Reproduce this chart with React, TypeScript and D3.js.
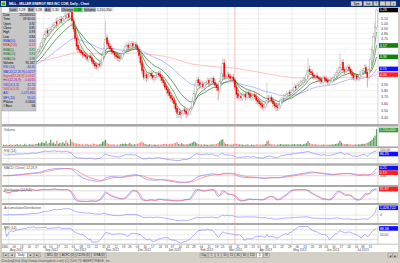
import React from "react";
import * as d3 from "d3";

// ---------------- DATA ----------------
const closes = [
  4.05, 4.08, 4.03, 4.10, 4.12, 4.12, 4.15, 4.11, 4.18, 4.20,
  4.20, 4.24, 4.19, 4.26, 4.28, 4.30, 4.27, 4.33, 4.36, 4.41,
  4.40, 4.38, 4.45, 4.49, 4.56, 4.62, 4.70, 4.78, 4.83, 4.80,
  4.86, 4.88, 4.93, 4.97, 5.02, 4.98, 5.05, 5.08, 5.04, 5.10,
  5.14, 5.15, 5.19, 5.12, 5.23, 5.05, 4.88, 4.70, 4.55, 4.49,
  4.46, 4.43, 4.40, 4.38, 4.36, 4.32, 4.37, 4.34, 4.28, 4.24,
  4.20, 4.18, 4.22, 4.21, 4.25, 4.38, 4.52, 4.68, 4.60, 4.55,
  4.50, 4.45, 4.43, 4.39, 4.36, 4.34, 4.33, 4.36, 4.42, 4.48,
  4.55, 4.57, 4.53, 4.58, 4.60, 4.56, 4.58, 4.55, 4.48, 4.38,
  4.25, 4.12, 4.01, 4.04, 4.00, 4.05, 4.07, 4.03, 4.00, 4.01,
  4.04, 4.06, 4.05, 4.01, 3.96, 3.92, 3.85, 3.81, 3.76, 3.72,
  3.68, 3.65, 3.60, 3.52, 3.46, 3.48, 3.44, 3.47, 3.50, 3.49,
  3.45, 3.47, 3.50, 3.54, 3.64, 3.76, 3.88, 3.96, 3.92, 3.88,
  3.90, 3.86, 3.91, 3.93, 3.95, 3.92, 3.96, 3.99, 3.92, 3.88,
  3.84, 3.80, 3.95, 4.08, 4.25, 4.01, 4.03, 4.05, 4.02, 3.99,
  4.01, 3.96, 3.85, 3.74, 3.69, 3.71, 3.69, 3.72, 3.73, 3.70,
  3.76, 3.74, 3.69, 3.71, 3.73, 3.70, 3.65, 3.63, 3.60, 3.58,
  3.55, 3.57, 3.60, 3.65, 3.66, 3.69, 3.64, 3.60, 3.57, 3.55,
  3.54, 3.59, 3.65, 3.67, 3.69, 3.72, 3.74, 3.76, 3.75, 3.77,
  3.81, 3.85, 3.84, 3.88, 3.90, 3.92, 3.94, 3.96, 3.99, 4.05,
  4.13, 4.10, 4.08, 4.04, 4.01, 4.03, 4.00, 3.98, 3.96, 3.94,
  4.00, 3.98, 3.95, 3.93, 3.95, 3.96, 3.99, 4.01, 4.05, 4.10,
  4.13, 4.18, 4.22, 4.13, 4.11, 4.15, 4.18, 4.14, 4.08, 4.04,
  4.00, 4.03, 3.99, 4.01, 4.06, 4.10, 4.13, 4.16, 4.09, 4.01,
  4.15, 4.31, 4.49, 4.74, 4.94, 5.28,
];

const opens = [
  4.00, 4.04, 4.09, 4.02, 4.09, 4.14, 4.11, 4.16, 4.10, 4.17,
  4.22, 4.19, 4.25, 4.18, 4.25, 4.27, 4.31, 4.26, 4.32, 4.35,
  4.43, 4.41, 4.37, 4.46, 4.48, 4.55, 4.60, 4.69, 4.76, 4.86,
  4.79, 4.84, 4.87, 4.92, 4.95, 5.04, 4.97, 5.03, 5.09, 5.02,
  5.08, 5.16, 5.13, 5.21, 5.11, 5.25, 5.06, 4.90, 4.72, 4.58,
  4.50, 4.48, 4.45, 4.41, 4.40, 4.37, 4.31, 4.38, 4.35, 4.30,
  4.25, 4.22, 4.17, 4.24, 4.20, 4.26, 4.37, 4.50, 4.72, 4.62,
  4.56, 4.52, 4.47, 4.44, 4.40, 4.38, 4.36, 4.32, 4.35, 4.41,
  4.47, 4.53, 4.58, 4.52, 4.57, 4.61, 4.55, 4.59, 4.56, 4.49,
  4.37, 4.26, 4.14, 4.00, 4.06, 3.99, 4.04, 4.08, 4.05, 3.98,
  4.00, 4.03, 4.08, 4.06, 4.02, 3.97, 3.93, 3.87, 3.82, 3.78,
  3.73, 3.69, 3.66, 3.61, 3.54, 3.45, 3.49, 3.43, 3.46, 3.52,
  3.50, 3.44, 3.46, 3.49, 3.55, 3.63, 3.75, 3.86, 3.98, 3.93,
  3.86, 3.91, 3.85, 3.90, 3.92, 3.97, 3.91, 3.95, 4.00, 3.93,
  3.89, 3.86, 3.79, 3.94, 4.07, 4.26, 4.00, 4.02, 4.06, 4.03,
  3.98, 4.02, 3.97, 3.86, 3.76, 3.68, 3.72, 3.68, 3.71, 3.75,
  3.69, 3.77, 3.75, 3.68, 3.70, 3.74, 3.71, 3.66, 3.64, 3.61,
  3.59, 3.54, 3.56, 3.59, 3.68, 3.65, 3.70, 3.65, 3.61, 3.58,
  3.56, 3.53, 3.58, 3.64, 3.66, 3.68, 3.71, 3.73, 3.78, 3.74,
  3.76, 3.80, 3.87, 3.83, 3.87, 3.89, 3.91, 3.93, 3.95, 3.98,
  4.04, 4.15, 4.11, 4.09, 4.05, 4.00, 4.04, 4.01, 3.99, 3.97,
  3.93, 4.01, 3.99, 3.96, 3.92, 3.94, 3.95, 3.98, 4.00, 4.04,
  4.09, 4.12, 4.17, 4.27, 4.14, 4.10, 4.14, 4.19, 4.15, 4.09,
  4.05, 3.99, 4.04, 3.98, 4.00, 4.05, 4.09, 4.12, 4.18, 4.10,
  4.00, 4.14, 4.30, 4.48, 4.73, 4.92,
];

// wick length above / below the body, in cents
const highWickCents = [
  3, 4, 2, 5, 3, 4, 2, 5, 3, 4,
  4, 3, 5, 2, 4, 3, 6, 3, 4, 5,
  4, 3, 5, 4, 6, 5, 7, 6, 8, 5,
  6, 5, 7, 4, 6, 8, 5, 7, 6, 5,
  6, 7, 5, 8, 23, 6, 5, 4, 6, 5,
  4, 5, 3, 6, 4, 5, 3, 4, 5, 3,
  4, 5, 3, 4, 6, 8, 12, 36, 6, 5,
  4, 5, 6, 3, 4, 5, 3, 4, 6, 5,
  5, 6, 4, 7, 5, 4, 6, 5, 4, 5,
  4, 5, 6, 4, 5, 3, 6, 4, 5, 4,
  5, 3, 4, 6, 3, 5, 4, 3, 4, 5,
  4, 3, 5, 4, 3, 5, 4, 3, 5, 4,
  3, 5, 4, 3, 6, 5, 7, 5, 4, 5,
  4, 5, 3, 4, 6, 3, 5, 4, 3, 5,
  4, 6, 5, 8, 9, 6, 4, 5, 3, 4,
  4, 5, 3, 4, 5, 3, 4, 6, 3, 4,
  5, 3, 4, 6, 3, 4, 5, 3, 4, 5,
  4, 3, 5, 27, 5, 4, 3, 5, 4, 3,
  3, 5, 4, 3, 6, 4, 5, 3, 4, 5,
  4, 5, 3, 4, 6, 5, 4, 6, 5, 8,
  21, 6, 4, 5, 3, 4, 5, 3, 4, 5,
  4, 3, 5, 4, 3, 5, 4, 6, 5, 7,
  6, 25, 8, 5, 4, 6, 5, 4, 3, 5,
  4, 5, 3, 4, 6, 5, 4, 7, 5, 4,
  6, 5, 7, 8, 10, 3,
];

const lowWickCents = [
  4, 3, 5, 2, 4, 3, 5, 3, 4, 3,
  3, 5, 2, 4, 3, 6, 4, 3, 5, 4,
  5, 6, 4, 3, 5, 4, 6, 5, 4, 7,
  5, 6, 4, 7, 5, 8, 4, 6, 5, 7,
  5, 6, 7, 5, 6, 8, 6, 5, 7, 6,
  4, 5, 6, 3, 5, 4, 6, 3, 5, 4,
  5, 4, 6, 3, 4, 5, 4, 6, 5, 4,
  5, 4, 3, 6, 4, 5, 6, 3, 4, 5,
  4, 5, 6, 3, 5, 4, 6, 5, 4, 6,
  5, 6, 4, 5, 6, 4, 3, 5, 4, 6,
  4, 5, 3, 6, 4, 5, 4, 6, 5, 4,
  5, 4, 6, 4, 6, 5, 4, 5, 3, 4,
  5, 4, 3, 5, 4, 6, 5, 4, 6, 5,
  4, 3, 5, 4, 3, 6, 4, 5, 3, 4,
  5, 15, 6, 4, 5, 4, 6, 3, 5, 4,
  3, 5, 4, 6, 4, 3, 5, 4, 3, 5,
  4, 5, 3, 4, 6, 3, 5, 4, 3, 5,
  4, 5, 3, 4, 5, 4, 3, 5, 4, 6,
  4, 3, 5, 4, 3, 5, 4, 3, 5, 4,
  3, 5, 4, 3, 4, 3, 5, 4, 3, 4,
  5, 4, 3, 5, 4, 3, 5, 4, 6, 3,
  4, 5, 3, 4, 5, 3, 4, 5, 3, 4,
  5, 4, 6, 3, 5, 4, 3, 5, 4, 6,
  4, 5, 3, 4, 5, 3, 4, 5, 3, 16,
  4, 5, 6, 5, 7, 6,
];

// volume in thousands of shares
const volumesK = [
  90, 70, 110, 60, 80, 120, 60, 100, 80, 130,
  70, 110, 90, 70, 150, 80, 60, 120, 100, 90,
  160, 120, 140, 210, 170, 260, 230, 190, 330, 150,
  210, 420, 180, 240, 140, 360, 150, 220, 190, 260,
  160, 380, 220, 140, 450, 300, 240, 190, 170, 150,
  130, 100, 150, 90, 120, 140, 80, 110, 100, 170,
  140, 110, 90, 130, 150, 260, 330, 420, 190, 140,
  120, 100, 130, 90, 80, 110, 90, 120, 150, 140,
  180, 130, 150, 210, 110, 90, 140, 100, 160, 190,
  240, 300, 220, 130, 110, 90, 120, 100, 80, 100,
  90, 80, 110, 90, 120, 130, 150, 140, 110, 130,
  160, 140, 180, 210, 280, 150, 130, 190, 120, 100,
  140, 110, 150, 170, 230, 300, 250, 180, 130, 120,
  100, 90, 110, 90, 80, 100, 80, 120, 100, 130,
  150, 210, 300, 420, 450, 240, 150, 120, 110, 90,
  100, 130, 170, 150, 140, 100, 110, 90, 80, 80,
  110, 90, 70, 100, 80, 80, 120, 100, 90, 100,
  110, 90, 130, 320, 380, 150, 110, 120, 100, 90,
  120, 100, 130, 110, 90, 110, 100, 120, 90, 100,
  110, 140, 100, 120, 110, 130, 90, 120, 150, 190,
  350, 210, 150, 130, 100, 110, 90, 100, 80, 90,
  110, 90, 80, 100, 80, 90, 110, 100, 130, 160,
  190, 360, 240, 150, 120, 140, 110, 130, 110, 100,
  90, 110, 90, 120, 100, 130, 150, 140, 170, 220,
  260, 330, 420, 560, 700, 1150,
];

const startDate = "2012-07-26";
const marketHolidays = [
  "2012-09-03", "2012-10-29", "2012-10-30", "2012-11-22", "2012-12-25",
  "2013-01-01", "2013-01-21", "2013-02-18", "2013-03-29", "2013-05-27", "2013-07-04",
];

const priceTicks = [3.4, 3.5, 3.6, 3.7, 3.8, 3.9, 4.0, 4.1, 4.2, 4.3, 4.4, 4.5, 4.6, 4.7, 4.8, 4.9, 5.0, 5.1, 5.2, 5.3];

const emaPeriods = [5, 10, 20, 50, 200];
const emaSeeds = [4.02, 4.03, 4.05, 4.22, 4.30];
const rsiSeeds = [0.03, 0.025];

const cursorIndex = 152;

const title = "MILL - MILLER ENERGY RES INC COM, Daily - Chart";
const quoteLabels = ["Last", "Bid", "Ask", "Change", "Volume"];
const quoteValues = ["5.28", "5.28", "5.30", "0.38", "1,150,350"];

const infoLabels = [
  "Date", "Time", "Open", "Close", "High", "Low", "EMA(50)", "EMA(200)", "EMA(5)", "EMA(10)", "EMA(20)",
  "Volume", "RSI (14)", "MACD(12,26,9)", "Signal(12,26,9)", "Hist(12,26,9)", "%K(14,3,3)", "%D(14,3,3)",
  "A/D", "MFI (14)", "PValue", "# Bars",
];
const infoValues = [
  "2013/03/12", "09:30:00", "3.92", "3.85", "3.93", "3.84", "4.00", "4.13", "3.92", "3.94", "3.98",
  "95,347", "44.45", "-0.0257", "-0.0242", "-0.0015", "42.70", "42.68", "-1,075,865", "55.05", "0.3400", "58",
];

const panelTitles = ["Volume", "RSI (14)", "MACD (Close) 12,26,9", "Stochastic (14,3,3)", "Accumulation/Distribution", "MFI (14)"];
const navButtons = ["|◄", "◄", "Daily", "►", "►|"];
const symbolTabs = ["MILL (D)", "ACFC (D)", "CDXS (D)", "IDRA (D)"];
const periodTabs = ["Day", "1", "5", "10", "15", "30", "60", "120", "D", "W"];

// ---------------- STYLE / LAYOUT ----------------
const FONT = "Liberation Sans, Arial, Helvetica, sans-serif";
const X0 = 2, X1 = 378, AX = 378;
const P = {
  main: [7, 124], vol: [126.5, 146.5], rsi: [148, 163.5], macd: [165.5, 185],
  stoch: [187, 203], ad: [205, 223], mfi: [225, 244],
};
const emaColors = ["#1f8a1f", "#157015", "#0b560b", "#8c8cff", "#ff9a9a"];
const infoColors = [
  "#000", "#000", "#000", "#000", "#000", "#000", "#2222ee", "#e02020", "#107010", "#107010", "#107010",
  "#000", "#2222ee", "#2222ee", "#e02020", "#b000b0", "#2222ee", "#e02020", "#2222ee", "#2222ee", "#000", "#000",
];

// ---------------- COMPUTATION ----------------
const n = closes.length;
const highs = closes.map((c, i) => Math.max(c, opens[i]) + highWickCents[i] / 100);
const lows = closes.map((c, i) => Math.min(c, opens[i]) - lowWickCents[i] / 100);
const volumes = volumesK.map((v) => v * 1000);

function ema(values: number[], period: number, seed: number) {
  const k = 2 / (period + 1);
  let prev = seed;
  return values.map((v) => (prev = prev + k * (v - prev)));
}
function sma(values: number[], p: number) {
  return values.map((_, i) => {
    const s = values.slice(Math.max(0, i - p + 1), i + 1);
    return d3.mean(s) as number;
  });
}

const emas = emaPeriods.map((p, k) => ema(closes, p, emaSeeds[k]));

const rsi: number[] = [];
{
  let ag = rsiSeeds[0], al = rsiSeeds[1];
  for (let i = 0; i < n; i++) {
    if (i > 0) {
      const d = closes[i] - closes[i - 1];
      ag = (ag * 13 + Math.max(d, 0)) / 14;
      al = (al * 13 + Math.max(-d, 0)) / 14;
    }
    rsi.push(al === 0 ? 100 : 100 - 100 / (1 + ag / al));
  }
}

const ema12 = ema(closes, 12, closes[0]);
const ema26 = ema(closes, 26, closes[0]);
const macd = ema12.map((v, i) => v - ema26[i]);
const signal = ema(macd, 9, 0);

const rawK = closes.map((c, i) => {
  const lo = d3.min(lows.slice(Math.max(0, i - 13), i + 1)) as number;
  const hi = d3.max(highs.slice(Math.max(0, i - 13), i + 1)) as number;
  return hi === lo ? 50 : ((c - lo) / (hi - lo)) * 100;
});
const stochK = sma(rawK, 3);
const stochD = sma(stochK, 3);

const adLine: number[] = [];
{
  let cum = 0;
  for (let i = 0; i < n; i++) {
    const r = highs[i] - lows[i];
    const mfm = r === 0 ? 0 : ((closes[i] - lows[i]) - (highs[i] - closes[i])) / r;
    cum += mfm * volumes[i];
    adLine.push(cum);
  }
}

const tp = closes.map((c, i) => (highs[i] + lows[i] + c) / 3);
const mfi = tp.map((_, i) => {
  if (i === 0) return NaN;
  let pos = 0, neg = 0;
  for (let j = Math.max(1, i - 13); j <= i; j++) {
    const f = tp[j] * volumes[j];
    if (tp[j] > tp[j - 1]) pos += f; else if (tp[j] < tp[j - 1]) neg += f;
  }
  return neg === 0 ? 100 : 100 - 100 / (1 + pos / neg);
});

// trading dates
const dates: Date[] = (() => {
  const hol = new Set(marketHolidays);
  const fmt = d3.utcFormat("%Y-%m-%d");
  const out: Date[] = [];
  let d = new Date(startDate + "T00:00:00Z");
  while (out.length < n) {
    const wd = d.getUTCDay();
    if (wd !== 0 && wd !== 6 && !hol.has(fmt(d))) out.push(d);
    d = d3.utcDay.offset(d, 1);
  }
  return out;
})();

// ---------------- SCALES ----------------
const xS = d3.scaleLinear().domain([0, n - 1]).range([3.5, 376.5]);
const yP = d3.scaleLog().domain([3.316, 5.345]).range([P.main[1], P.main[0]]);
const yV = d3.scaleLinear().domain([0, 1250000]).range([P.vol[1] - 0.5, P.vol[0] + 1]);
const yR = d3.scaleLinear().domain([0, 100]).range([P.rsi[1] - 1, P.rsi[0] + 1]);
const macdExt = d3.extent([...macd, ...signal]) as [number, number];
const macdPad = (macdExt[1] - macdExt[0]) * 0.08;
const yM = d3.scaleLinear().domain([macdExt[0] - macdPad, macdExt[1] + macdPad]).range([P.macd[1] - 1, P.macd[0] + 1.5]);
const yS = d3.scaleLinear().domain([0, 100]).range([P.stoch[1] - 1, P.stoch[0] + 1]);
const adExt = d3.extent(adLine) as [number, number];
const adPad = (adExt[1] - adExt[0]) * 0.1;
const yA = d3.scaleLinear().domain([Math.min(adExt[0] - adPad, -adPad), adExt[1] + adPad]).range([P.ad[1] - 1, P.ad[0] + 1.5]);
const yF = d3.scaleLinear().domain([0, 100]).range([P.mfi[1] - 1, P.mfi[0] + 1.5]);

function linePath(vals: number[], y: (v: number) => number) {
  return d3.line<number>()
    .defined((v) => !isNaN(v))
    .x((_, i) => xS(i))
    .y((v) => y(v))(vals) || "";
}

const weekStarts = dates.map((d, i) => i === 0 || d3.utcMonday.floor(d).getTime() !== d3.utcMonday.floor(dates[i - 1]).getTime());
const monthStarts = dates.map((d, i) => i > 0 && d.getUTCMonth() !== dates[i - 1].getUTCMonth());

const f2 = d3.format(".2f");
const fInt = d3.format(",.0f");

function ValueBox({ y, text, bg, fg }: { y: number; text: string; bg: string; fg: string }) {
  return (
    <g>
      <rect x={AX + 1} y={y - 2.3} width={19} height={4.6} fill={bg} />
      <text x={AX + 1.8} y={y + 1.3} fontSize={3.6} fill={fg} fontFamily={FONT}>{text}</text>
    </g>
  );
}

export default function App() {
  const panels = [P.main, P.vol, P.rsi, P.macd, P.stoch, P.ad, P.mfi];
  const subTitles: [string, number][] = [
    [panelTitles[0], P.vol[0] + 4.2], [panelTitles[1], P.rsi[0] + 3.8], [panelTitles[2], P.macd[0] + 3.8],
    [panelTitles[3], P.stoch[0] + 3.8], [panelTitles[4], P.ad[0] + 3.8], [panelTitles[5], P.mfi[0] + 3.8],
  ];
  const last = n - 1;

  const priceBoxes = [
    { v: emas[4][last], bg: "#ff2020" },
    { v: emas[3][last], bg: "#1010ff" },
    { v: emas[2][last], bg: "#108010" },
    { v: emas[1][last], bg: "#108010" },
    { v: closes[last], bg: "#000" },
  ];
  const boxYs = priceBoxes.map((b) => yP(b.v));
  const visibleTicks = priceTicks.filter((t) => boxYs.every((by) => Math.abs(yP(t) - by) > 4));

  let tx = 2;
  const navRects = navButtons.map((t) => {
    const w = t.length > 2 ? 12 : 6;
    const r = { t, x: tx, w };
    tx += w + 0.6;
    return r;
  });
  tx += 4;
  const symRects = symbolTabs.map((t) => {
    const w = 15;
    const r = { t, x: tx, w };
    tx += w + 0.6;
    return r;
  });
  let px = 200;
  const perRects = periodTabs.map((t) => {
    const w = t.length > 2 ? 8 : 6;
    const r = { t, x: px, w };
    px += w + 0.6;
    return r;
  });

  let qx = 9;
  const quoteItems = quoteLabels.map((l, i) => {
    const lw = l.length * 1.9 + 1.5;
    const vw = quoteValues[i].length * 1.8 + 1.5;
    const r = { l, v: quoteValues[i], x: qx, lw, vw, i };
    qx += lw + vw + 0.8;
    return r;
  });

  return (
    <svg width={400} height={263} viewBox="0 0 400 263"
      style={{ position: "fixed", left: 0, top: 0, display: "block" }} fontFamily={FONT}>
      <defs>
        {panels.map((p, k) => (
          <clipPath id={`clip${k}`} key={k}>
            <rect x={X0} y={p[0]} width={X1 - X0} height={p[1] - p[0]} />
          </clipPath>
        ))}
      </defs>
      <rect x={0} y={0} width={400} height={263} fill="#d4d0c8" />
      {panels.map((p, k) => (
        <rect key={k} x={X0} y={p[0]} width={398 - X0} height={p[1] - p[0]} fill="#fff" />
      ))}
      {panels.slice(1).map((p, k) => (
        <rect key={k} x={X0} y={panels[k][1]} width={398 - X0} height={p[0] - panels[k][1]} fill="#a9a9a9" />
      ))}
      <rect x={X0} y={P.mfi[1]} width={398 - X0} height={8} fill="#fff" />
      <line x1={X0} x2={398} y1={P.mfi[1] + 0.2} y2={P.mfi[1] + 0.2} stroke="#909090" strokeWidth={0.6} />

      {priceTicks.map((t) => (
        <line key={t} x1={X0} x2={X1} y1={yP(t)} y2={yP(t)} stroke="#e6e6e6" strokeWidth={0.5} />
      ))}
      {dates.map((d, i) => monthStarts[i] ? (
        <g key={i}>
          {panels.map((p, k) => (
            <line key={k} x1={xS(i) - 0.75} x2={xS(i) - 0.75} y1={p[0]} y2={p[1]} stroke="#d6d6d6" strokeWidth={0.5} />
          ))}
        </g>
      ) : null)}
      {panels.map((p, k) => (
        <line key={k} x1={xS(cursorIndex)} x2={xS(cursorIndex)} y1={p[0]} y2={p[1]} stroke="#ff9090" strokeWidth={0.6} />
      ))}
      <line x1={AX} x2={AX} y1={7} y2={P.mfi[1]} stroke="#a0a0a0" strokeWidth={0.5} />

      {/* main chart */}
      <g clipPath="url(#clip0)">
        {emas.map((e, k) => (
          <path key={k} d={linePath(e, yP)} fill="none" stroke={emaColors[k]} strokeWidth={0.6} />
        )).reverse()}
        {closes.map((c, i) => {
          const o = opens[i];
          const up = c >= o;
          const x = xS(i);
          const yt = yP(Math.max(o, c));
          const yb = yP(Math.min(o, c));
          return (
            <g key={i}>
              <line x1={x} x2={x} y1={yP(highs[i])} y2={yP(lows[i])} stroke={up ? "#a8a8a8" : "#b05050"} strokeWidth={0.5} />
              <rect x={x - 0.8} y={yt} width={1.6} height={Math.max(0.6, yb - yt)}
                fill={up ? "#fff" : "#ff0000"} stroke={up ? "#a0a0a0" : "none"} strokeWidth={0.4} />
            </g>
          );
        })}
      </g>

      {visibleTicks.map((t) => (
        <text key={t} x={AX + 3} y={yP(t) + 1.3} fontSize={3.6} fill="#404040">{f2(t)}</text>
      ))}
      {priceBoxes.map((b, k) => (
        <ValueBox key={k} y={yP(b.v)} text={f2(b.v)} bg={b.bg} fg="#fff" />
      ))}

      {quoteItems.map((q) => (
        <g key={q.l}>
          <rect x={q.x} y={7.3} width={q.lw} height={4.6} fill="#a8a8a8" />
          <text x={q.x + 0.7} y={10.9} fontSize={3.3} fill="#202020">{q.l}</text>
          <rect x={q.x + q.lw} y={7.3} width={q.vw} height={4.6} fill={q.i === 3 ? "#20e020" : "#ececec"} />
          <text x={q.x + q.lw + 0.7} y={10.9} fontSize={3.3} fill="#202020">{q.v}</text>
        </g>
      ))}

      <rect x={2} y={13} width={34} height={98} fill="#c6c6c6" stroke="#909090" strokeWidth={0.4} />
      {infoLabels.map((l, i) => (
        <g key={l}>
          <text x={3.2} y={16 + i * 4.35} fontSize={3.1} fill={infoColors[i]}>{l}</text>
          <text x={35} y={16 + i * 4.35} fontSize={3.1} fill={infoColors[i]} textAnchor="end">{infoValues[i]}</text>
        </g>
      ))}

      {/* volume */}
      <g clipPath="url(#clip1)">
        {volumes.map((v, i) => (
          <rect key={i} x={xS(i) - 0.6} y={yV(v)} width={1.2} height={yV(0) - yV(v)}
            fill={closes[i] >= opens[i] ? "#5f9f5f" : "#ff8484"} />
        ))}
      </g>
      <ValueBox y={P.vol[0] + 3.5} text={fInt(volumes[last])} bg="#2e9a2e" fg="#fff" />

      {/* RSI */}
      {[30, 70].map((v) => (
        <line key={v} x1={X0} x2={X1} y1={yR(v)} y2={yR(v)} stroke="#b8b8b8" strokeWidth={0.5} />
      ))}
      <g clipPath="url(#clip2)">
        <path d={linePath(rsi, yR)} fill="none" stroke="#7b7bff" strokeWidth={0.6} />
      </g>
      <text x={AX + 2} y={P.rsi[0] + 2.8} fontSize={3.3} fill="#404040">100.00</text>
      <ValueBox y={Math.max(yR(rsi[last]), P.rsi[0] + 6)} text={f2(rsi[last])} bg="#1010ff" fg="#fff" />

      {/* MACD */}
      <line x1={X0} x2={X1} y1={yM(0)} y2={yM(0)} stroke="#b8b8b8" strokeWidth={0.5} />
      <g clipPath="url(#clip3)">
        <path d={linePath(macd, yM)} fill="none" stroke="#7070ff" strokeWidth={0.6} />
        <path d={linePath(signal, yM)} fill="none" stroke="#ff6a6a" strokeWidth={0.6} />
      </g>
      <text x={AX + 2} y={yM(0) + 1.3} fontSize={3.3} fill="#404040">0.00</text>
      <ValueBox y={yM(macd[last])} text={f2(macd[last])} bg="#1010ff" fg="#fff" />
      <ValueBox y={yM(macd[last]) + 4.6} text={f2(signal[last])} bg="#ff2020" fg="#fff" />

      {/* Stochastic */}
      {[20, 80].map((v) => (
        <line key={v} x1={X0} x2={X1} y1={yS(v)} y2={yS(v)} stroke="#b8b8b8" strokeWidth={0.5} />
      ))}
      <g clipPath="url(#clip4)">
        <path d={linePath(stochK, yS)} fill="none" stroke="#6f6fff" strokeWidth={0.6} />
        <path d={linePath(stochD, yS)} fill="none" stroke="#ff6a6a" strokeWidth={0.6} />
      </g>
      <ValueBox y={yS(stochD[last])} text={f2(stochD[last])} bg="#ff2020" fg="#fff" />

      {/* A/D */}
      <line x1={X0} x2={X1} y1={yA(0)} y2={yA(0)} stroke="#d0d0d0" strokeWidth={0.5} />
      <g clipPath="url(#clip5)">
        <path d={linePath(adLine, yA)} fill="none" stroke="#7b7bff" strokeWidth={0.6} />
      </g>
      <text x={AX + 2} y={yA(0) + 1.3} fontSize={3.3} fill="#404040">0</text>
      <ValueBox y={yA(adLine[last])} text={fInt(adLine[last])} bg="#1010ff" fg="#fff" />

      {/* MFI */}
      {[20, 50, 80].map((v) => (
        <line key={v} x1={X0} x2={X1} y1={yF(v)} y2={yF(v)} stroke={v === 50 ? "#d8d8d8" : "#b8b8b8"} strokeWidth={0.5} />
      ))}
      <g clipPath="url(#clip6)">
        <path d={linePath(mfi, yF)} fill="none" stroke="#7b7bff" strokeWidth={0.6} />
      </g>
      <text x={AX + 2} y={yF(50) + 1.3} fontSize={3.3} fill="#404040">50.00</text>
      <ValueBox y={Math.min(yF(mfi[last]), yF(50) - 4.8)} text={f2(mfi[last])} bg="#1010ff" fg="#fff" />

      {subTitles.map(([t, y]) => (
        <text key={t} x={4} y={y} fontSize={3.3} fill="#505050">{t}</text>
      ))}

      {/* date axis */}
      {dates.map((d, i) => weekStarts[i] ? (
        <text key={i} x={xS(i)} y={P.mfi[1] + 3.6} fontSize={3} fill="#404040" textAnchor="middle">
          {d3.utcFormat("%d")(d)}
        </text>
      ) : null)}
      {dates.map((d, i) => monthStarts[i] ? (
        <text key={"m" + i} x={xS(i) + 0.5} y={P.mfi[1] + 7.3} fontSize={3} fill="#404040">
          {d3.utcFormat("%b %Y")(d)}
        </text>
      ) : null)}

      {/* tab bar */}
      {[...navRects, ...symRects, ...perRects].map((r, k) => (
        <g key={k}>
          <rect x={r.x} y={253} width={r.w} height={4.6} fill={r.t === "Daily" || r.t === "D" ? "#ffffff" : "#d4d0c8"}
            stroke="#808080" strokeWidth={0.4} />
          <text x={r.x + r.w / 2} y={256.4} fontSize={2.9} fill="#202020" textAnchor="middle">{r.t}</text>
        </g>
      ))}
      <rect x={388} y={253} width={4.6} height={4.6} fill="#d4d0c8" stroke="#808080" strokeWidth={0.4} />
      <rect x={393} y={253} width={4.6} height={4.6} fill="#d4d0c8" stroke="#808080" strokeWidth={0.4} />
      <text x={390.3} y={256.6} fontSize={3} textAnchor="middle" fill="#000">◄</text>
      <text x={395.3} y={256.6} fontSize={3} textAnchor="middle" fill="#000">►</text>

      <text x={1} y={262} fontSize={3.2} fill="#505050">
        ChartingDesk (http://www.chartingdesk.com) (C) 2005 TD AMERITRADE, Inc.
      </text>

      {/* title bar */}
      <rect x={0} y={0} width={400} height={7} fill="#0c2a72" />
      <rect x={1} y={1} width={5} height={5} fill="#e8d020" />
      <rect x={2} y={2.5} width={3} height={2.5} fill="#30a030" />
      <text x={9} y={5.3} fontSize={4.2} fontWeight="bold" fill="#fff" textLength={80} lengthAdjust="spacingAndGlyphs">{title}</text>
      {[["Sym", 351, 11], ["Ind", 363.5, 9], ["?", 373.5, 5], ["_", 380, 5], ["□", 385.5, 5], ["x", 391, 5]].map(([t, x, w]) => (
        <g key={t as string}>
          <rect x={x as number} y={1.3} width={w as number} height={4.6} fill="#d4d0c8" stroke="#808080" strokeWidth={0.3} />
          <text x={(x as number) + (w as number) / 2} y={4.8} fontSize={3} textAnchor="middle" fill="#000">{t}</text>
        </g>
      ))}
    </svg>
  );
}
